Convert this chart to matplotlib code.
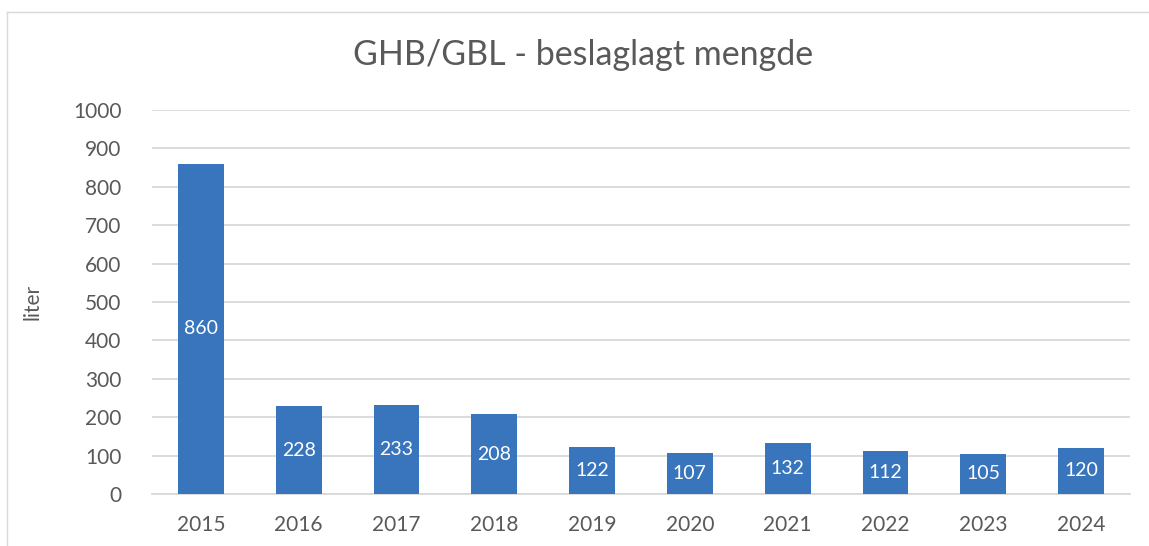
import matplotlib.pyplot as plt
from matplotlib.lines import Line2D

years = ['2015', '2016', '2017', '2018', '2019', '2020', '2021', '2022', '2023', '2024']
liters = [860, 228, 233, 208, 122, 107, 132, 112, 105, 120]
y_ticks = [0, 100, 200, 300, 400, 500, 600, 700, 800, 900, 1000]

plt.rcParams['font.family'] = ['Lato', 'DejaVu Sans']
text_color = '#595959'
bar_color = '#3875BC'

fig = plt.figure(figsize=(11.49, 5.46), dpi=100)
ax = fig.add_axes([152 / 1149, 1 - 494 / 546, 978 / 1149, 384 / 546])

x = range(len(years))
bars = ax.bar(x, liters, width=0.47, color=bar_color, zorder=3)

for bar, val in zip(bars, liters):
    ax.text(bar.get_x() + bar.get_width() / 2, val / 2, str(val),
            ha='center', va='center', color='white', fontsize=14, zorder=4)

ax.set_xlim(-0.5, len(years) - 0.5)
ax.set_ylim(0, 1000)
ax.set_yticks(y_ticks)
ax.set_xticks(list(x))
ax.set_xticklabels(years)
ax.tick_params(axis='both', length=0, labelsize=15, colors=text_color)
ax.tick_params(axis='x', pad=15)
ax.tick_params(axis='y', pad=22)
ax.yaxis.grid(True, color='#D9D9D9', linewidth=1.3, zorder=0)
for side in ['top', 'right', 'left']:
    ax.spines[side].set_visible(False)
ax.spines['bottom'].set_color('#D9D9D9')
ax.spines['bottom'].set_linewidth(1.3)

ax.set_ylabel('liter', fontsize=15, color=text_color, labelpad=22)
fig.text(583 / 1149, 1 - 55 / 546, 'GHB/GBL - beslaglagt mengde',
         ha='center', va='center', fontsize=24.5, color=text_color)

# chart frame (left and top edges)
fig.add_artist(Line2D([7 / 1149, 7 / 1149], [0, 1 - 12 / 546],
                      transform=fig.transFigure, color='#D9D9D9', linewidth=1))
fig.add_artist(Line2D([7 / 1149, 1], [1 - 12 / 546, 1 - 12 / 546],
                      transform=fig.transFigure, color='#D9D9D9', linewidth=1))

plt.savefig('out.png', dpi=100)
